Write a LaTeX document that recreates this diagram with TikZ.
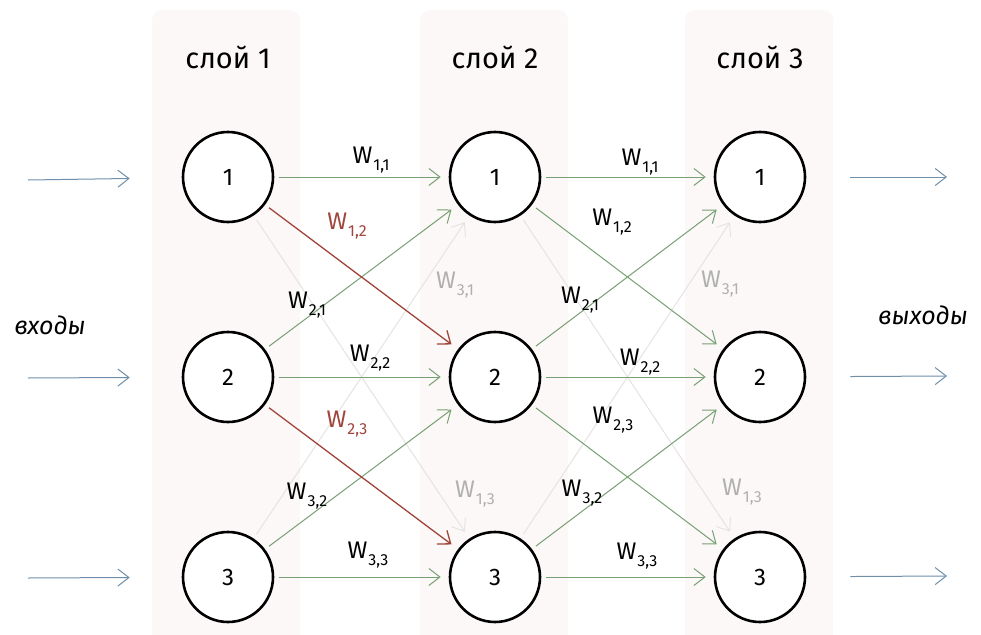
\documentclass[tikz,border=0pt]{standalone}
\usepackage{fontspec}
\setmainfont{Fira Sans}
\usetikzlibrary{arrows.meta}
\definecolor{edgegreen}{HTML}{78A072}
\definecolor{edgered}{HTML}{A0443C}
\definecolor{edgefaint}{HTML}{E6E4E2}
\definecolor{labelfaint}{HTML}{B0B0B0}
\definecolor{inblue}{HTML}{6F8FAA}
\definecolor{bandfill}{HTML}{FBF8F7}
\newcommand{\wlab}[2]{W\kern1pt\raisebox{-0.32em}{\fontsize{16}{16}\selectfont #1,#2}}
\tikzstyle{band}=[fill=bandfill, draw=none, rounded corners=10pt]
\tikzstyle{neuron}=[circle, draw=black, line width=2.6pt, fill=white, minimum size=90pt, inner sep=0pt, font=\fontsize{24}{24}\selectfont]
\tikzstyle{link}=[-{Straight Barb[length=11pt,width=17pt]}, line width=1pt, shorten >=8pt, shorten <=5pt]
\tikzstyle{link_green}=[link, draw=edgegreen]
\tikzstyle{link_red}=[link, draw=edgered, line width=1.3pt]
\tikzstyle{link_faint}=[link, draw=edgefaint]
\tikzstyle{wlabel}=[font=\fontsize{24}{24}\selectfont, inner sep=0pt]
\tikzstyle{io}=[-{Straight Barb[length=11pt,width=17pt]}, draw=inblue, line width=1pt]

\begin{document}
\begin{tikzpicture}[x=1pt, y=-1pt]
\useasboundingbox (0,0) rectangle (981,634);
\fill[white] (0,0) rectangle (981,634);
\node[band, minimum width=148pt, minimum height=640pt, anchor=north] (band1) at (226,10){};
\node[band, minimum width=148pt, minimum height=640pt, anchor=north] (band2) at (494,10){};
\node[band, minimum width=148pt, minimum height=640pt, anchor=north] (band3) at (759,10){};
\node[font=\fontsize{29}{29}\selectfont] (head1) at (228,57){слой 1};
\node[font=\fontsize{29}{29}\selectfont] (head2) at (495,57){слой 2};
\node[font=\fontsize{29}{29}\selectfont] (head3) at (760,57){слой 3};
\node[neuron] (l1n1) at (228,177){1};
\node[neuron] (l1n2) at (228,377){2};
\node[neuron] (l1n3) at (228,577){3};
\node[neuron] (l2n1) at (495,177){1};
\node[neuron] (l2n2) at (495,377){2};
\node[neuron] (l2n3) at (495,577){3};
\node[neuron] (l3n1) at (760,177){1};
\node[neuron] (l3n2) at (760,377){2};
\node[neuron] (l3n3) at (760,577){3};
% inputs and outputs
\node[font=\fontsize{25}{25}\selectfont\itshape] (inlabel) at (50,325){входы};
\node[font=\fontsize{25}{25}\selectfont\itshape] (outlabel) at (923,315){выходы};
\coordinate (in1) at (28,180);
\coordinate (in2) at (28,378);
\coordinate (in3) at (28,578);
\coordinate (out1) at (947,177);
\coordinate (out2) at (947,376);
\coordinate (out3) at (947,576);
\draw[io, shorten >=52pt](in1) -- (l1n1);
\draw[io, shorten >=52pt](in2) -- (l1n2);
\draw[io, shorten >=52pt](in3) -- (l1n3);
\draw[io, shorten <=44pt](l3n1) -- (out1);
\draw[io, shorten <=44pt](l3n2) -- (out2);
\draw[io, shorten <=44pt](l3n3) -- (out3);
% layer 1 to layer 2
\draw[link_faint](l1n1) -- (l2n3);
\draw[link_faint](l1n3) -- (l2n1);
\draw[link_green](l1n1) -- (l2n1);
\draw[link_green](l1n2) -- (l2n1);
\draw[link_green](l1n2) -- (l2n2);
\draw[link_green](l1n3) -- (l2n2);
\draw[link_green](l1n3) -- (l2n3);
\draw[link_red](l1n1) -- (l2n2);
\draw[link_red](l1n2) -- (l2n3);
% layer 2 to layer 3
\draw[link_faint](l2n1) -- (l3n3);
\draw[link_faint](l2n3) -- (l3n1);
\draw[link_green](l2n1) -- (l3n1);
\draw[link_green](l2n1) -- (l3n2);
\draw[link_green](l2n2) -- (l3n1);
\draw[link_green](l2n2) -- (l3n2);
\draw[link_green](l2n2) -- (l3n3);
\draw[link_green](l2n3) -- (l3n2);
\draw[link_green](l2n3) -- (l3n3);
% weights
\node[wlabel] (wa11) at (371,160){\wlab{1}{1}};
\node[wlabel, text=edgered] (wa12) at (347,226){\wlab{1}{2}};
\node[wlabel] (wa21) at (307,305){\wlab{2}{1}};
\node[wlabel, text=labelfaint] (wa31) at (455,285){\wlab{3}{1}};
\node[wlabel] (wa22) at (370,358){\wlab{2}{2}};
\node[wlabel, text=edgered] (wa23) at (347,424){\wlab{2}{3}};
\node[wlabel] (wa32) at (307,496){\wlab{3}{2}};
\node[wlabel, text=labelfaint] (wa13) at (475,494){\wlab{1}{3}};
\node[wlabel] (wa33) at (368,555){\wlab{3}{3}};
\node[wlabel] (wb11) at (640,162){\wlab{1}{1}};
\node[wlabel] (wb12) at (612,222){\wlab{1}{2}};
\node[wlabel] (wb21) at (580,300){\wlab{2}{1}};
\node[wlabel, text=labelfaint] (wb31) at (720,284){\wlab{3}{1}};
\node[wlabel] (wb22) at (640,362){\wlab{2}{2}};
\node[wlabel] (wb23) at (613,420){\wlab{2}{3}};
\node[wlabel] (wb32) at (582,493){\wlab{3}{2}};
\node[wlabel, text=labelfaint] (wb13) at (742,492){\wlab{1}{3}};
\node[wlabel] (wb33) at (637,556){\wlab{3}{3}};
\end{tikzpicture}
\end{document}
